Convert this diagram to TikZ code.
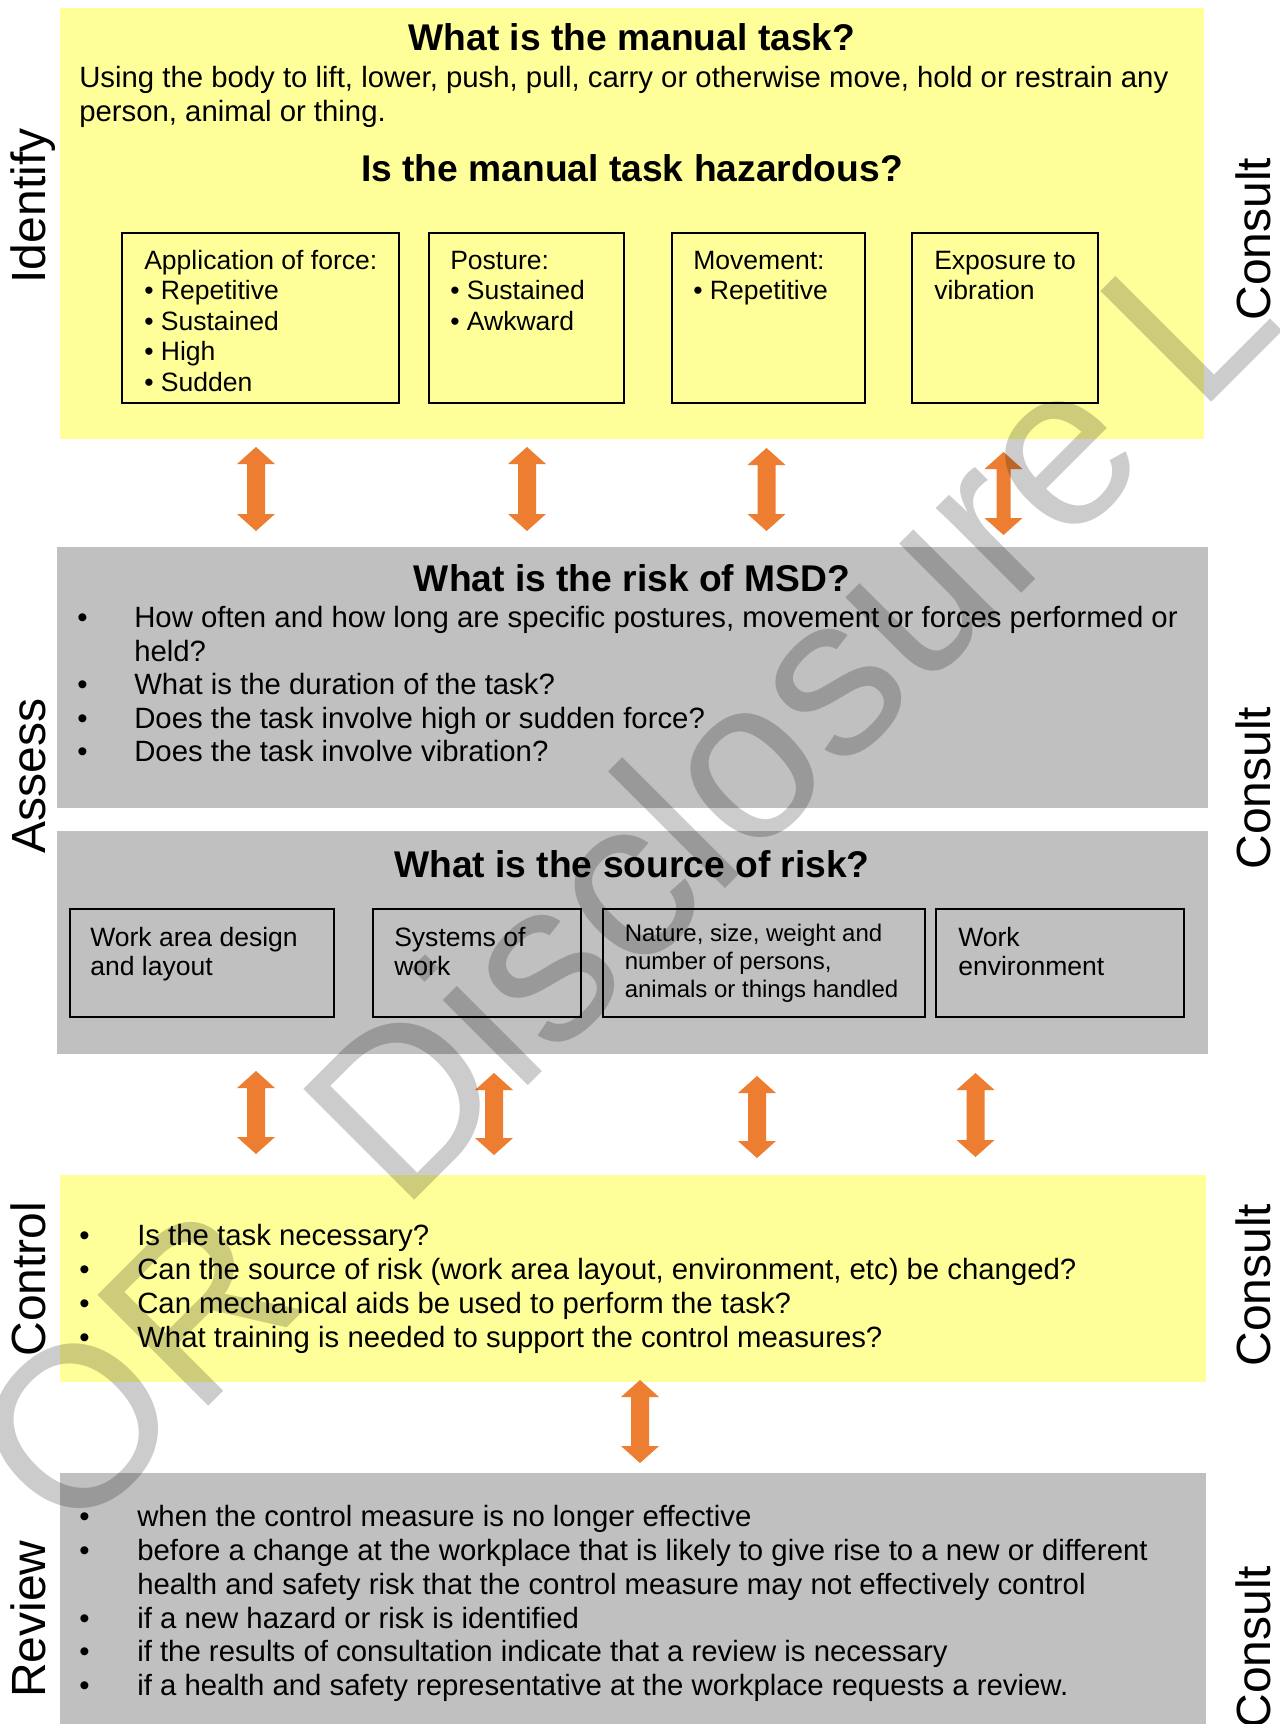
\documentclass[tikz,border=0pt]{standalone}
\usepackage{fontspec}
\setmainfont{Liberation Sans}
\definecolor{boxyellow}{HTML}{FFFF99}
\definecolor{boxgray}{HTML}{C0C0C0}
\definecolor{arroworange}{HTML}{ED7D31}
\newcommand\setfs[2]{\fontsize{#1}{#2}\selectfont}
\newcommand\dblarr[4]{%
  \fill[arroworange] (#1,#2) -- ({#1+19},{#2+17}) -- ({#1+#4},{#2+17}) -- ({#1+#4},{#3-17})
    -- ({#1+19},{#3-17}) -- (#1,#3) -- ({#1-19},{#3-17}) -- ({#1-#4},{#3-17})
    -- ({#1-#4},{#2+17}) -- ({#1-19},{#2+17}) -- cycle;}
\tikzset{
  panel/.style={fill=#1, draw=none},
  hazbox/.style={draw=black, line width=1.2pt},
  heading/.style={font=\bfseries\setfs{27.9}{33}, anchor=base, inner sep=0pt},
  bodytxt/.style={font=\setfs{22}{25}, anchor=base west, inner sep=0pt},
  boxtxt/.style={font=\setfs{19.9}{23}, anchor=base west, inner sep=0pt},
  smalltxt/.style={font=\setfs{18}{21}, anchor=base west, inner sep=0pt},
  sidelabel/.style={font=\setfs{36}{40}, rotate=90, anchor=base, inner sep=0pt},
  watermark/.style={font=\setfs{171}{171}, rotate=45, anchor=base west, inner sep=0pt, text=black, text opacity=0.2},
}
\begin{document}
\begin{tikzpicture}[x=0.75pt,y=-0.75pt]
\useasboundingbox (0,0) rectangle (1280,1724);
\fill[white] (0,0) rectangle (1280,1724);
\begin{scope}
\clip (0,0) rectangle (1280,1724);
% panels
\path[panel=boxyellow] (60,7.5) rectangle (1204,439);
\path[panel=boxgray] (57,547) rectangle (1208,808);
\path[panel=boxgray] (57,831) rectangle (1208,1054);
\path[panel=boxyellow] (60,1174.5) rectangle (1206,1382);
\path[panel=boxgray] (60,1473) rectangle (1206,1724);

% Identify panel
\node[heading] (t1) at (632,50.5) {What is the manual task?};
\node[bodytxt] (d1) at (79,87) {Using the body to lift, lower, push, pull, carry or otherwise move, hold or restrain any};
\node[bodytxt] (d2) at (79,121) {person, animal or thing.};
\node[heading] (t2) at (632,181) {Is the manual task hazardous?};

\draw[hazbox] (122,233) rectangle (399,403);
\draw[hazbox] (429,233) rectangle (624,403);
\draw[hazbox] (672,233) rectangle (865,403);
\draw[hazbox] (912,233) rectangle (1098,403);

\node[boxtxt] (f0) at (144,269) {Application of force:};
\node[boxtxt] (f1) at (144,299.5) {\textbullet{} Repetitive};
\node[boxtxt] (f2) at (144,330) {\textbullet{} Sustained};
\node[boxtxt] (f3) at (144,360.5) {\textbullet{} High};
\node[boxtxt] (f4) at (144,391) {\textbullet{} Sudden};
\node[boxtxt] (p0) at (450,269) {Posture:};
\node[boxtxt] (p1) at (450,299.5) {\textbullet{} Sustained};
\node[boxtxt] (p2) at (450,330) {\textbullet{} Awkward};
\node[boxtxt] (m0) at (693,269) {Movement:};
\node[boxtxt] (m1) at (693,299.5) {\textbullet{} Repetitive};
\node[boxtxt] (e0) at (934,269) {Exposure to};
\node[boxtxt] (e1) at (934,299.5) {vibration};

% Assess panels
\node[heading] (t3) at (632,591.5) {What is the risk of MSD?};
\foreach \y/\txt [count=\i] in {627.5/{How often and how long are specific postures, movement or forces performed or},
  694.5/{What is the duration of the task?}, 728/{Does the task involve high or sudden force?},
  761.5/{Does the task involve vibration?}}{
  \node[bodytxt] (ab\i) at (77,\y) {\textbullet};
  \node[bodytxt] (at\i) at (134,\y) {\txt};
}
\node[bodytxt] (at0) at (134,661) {held?};

\node[heading] (t4) at (632,877) {What is the source of risk?};
\draw[hazbox] (70,909) rectangle (334,1017);
\draw[hazbox] (373,909) rectangle (581,1017);
\draw[hazbox] (603,909) rectangle (925,1017);
\draw[hazbox] (936,909) rectangle (1184,1017);
\node[boxtxt] (s1a) at (90,946) {Work area design};
\node[boxtxt] (s1b) at (90,975.5) {and layout};
\node[boxtxt] (s2a) at (394,946) {Systems of};
\node[boxtxt] (s2b) at (394,975.5) {work};
\node[smalltxt] (s3a) at (624.5,941) {Nature, size, weight and};
\node[smalltxt] (s3b) at (624.5,969) {number of persons,};
\node[smalltxt] (s3c) at (624.5,997) {animals or things handled};
\node[boxtxt] (s4a) at (958,946) {Work};
\node[boxtxt] (s4b) at (958,975.5) {environment};

% Control panel
\foreach \y/\txt [count=\i] in {1245/{Is the task necessary?},
  1279/{Can the source of risk (work area layout, environment, etc) be changed?},
  1313/{Can mechanical aids be used to perform the task?},
  1347/{What training is needed to support the control measures?}}{
  \node[bodytxt] (cb\i) at (79,\y) {\textbullet};
  \node[bodytxt] (ct\i) at (137,\y) {\txt};
}

% Review panel
\foreach \y/\txt [count=\i] in {1526.5/{when the control measure is no longer effective},
  1560.3/{before a change at the workplace that is likely to give rise to a new or different},
  1628/{if a new hazard or risk is identified},
  1661.7/{if the results of consultation indicate that a review is necessary},
  1695.5/{if a health and safety representative at the workplace requests a review.}}{
  \node[bodytxt] (rb\i) at (79,\y) {\textbullet};
  \node[bodytxt] (rt\i) at (137,\y) {\txt};
}
\node[bodytxt] (rt0) at (137,1594) {health and safety risk that the control measure may not effectively control};

% arrows
\dblarr{256}{447}{531}{9}
\dblarr{527}{447}{531}{9}
\dblarr{766.5}{448}{531}{9}
\dblarr{1003.5}{452}{535}{7}
\dblarr{256}{1071}{1154}{9}
\dblarr{494}{1073}{1155}{9}
\dblarr{757}{1076}{1158}{9}
\dblarr{975.5}{1073}{1157}{9}
\dblarr{640}{1380}{1463}{9}

% side labels
\node[sidelabel] (lid) at (45,206) {Identify};
\node[sidelabel] (las) at (45,776) {Assess};
\node[sidelabel] (lco) at (45,1279) {Control};
\node[sidelabel] (lre) at (45,1619) {Review};
\node[sidelabel] (c1) at (1270,239) {Consult};
\node[sidelabel] (c2) at (1270,788) {Consult};
\node[sidelabel] (c3) at (1270,1285) {Consult};
\node[sidelabel] (c4) at (1270,1647) {Consult};

% watermark
\node[watermark] (wm) at (69.8,1544.6) {OR~~Disclosure L};
\end{scope}
\end{tikzpicture}
\end{document}
